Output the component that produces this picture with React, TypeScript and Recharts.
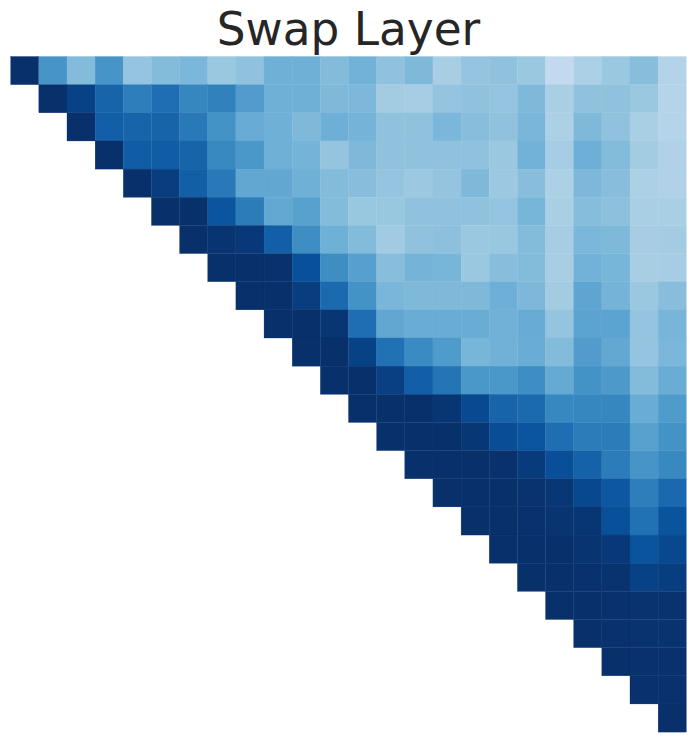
import { ScatterChart, Scatter, XAxis, YAxis } from 'recharts';

// each row starts on the diagonal, values are positions on the Blues scale (1 = darkest)
const row00 = [1, 0.61, 0.44, 0.61, 0.4, 0.44, 0.46, 0.385, 0.41, 0.49, 0.49, 0.44, 0.48, 0.41, 0.45, 0.345, 0.4, 0.41, 0.385, 0.26, 0.33, 0.385, 0.43, 0.31];
const row01 = [1, 0.93, 0.8, 0.7, 0.76, 0.67, 0.69, 0.58, 0.49, 0.49, 0.45, 0.455, 0.36, 0.35, 0.4, 0.41, 0.4, 0.45, 0.34, 0.41, 0.41, 0.385, 0.3];
const row02 = [1, 0.82, 0.8, 0.8, 0.72, 0.62, 0.51, 0.49, 0.45, 0.495, 0.475, 0.41, 0.41, 0.46, 0.43, 0.41, 0.465, 0.33, 0.45, 0.41, 0.34, 0.305];
const row03 = [1, 0.83, 0.83, 0.8, 0.66, 0.6, 0.49, 0.475, 0.4, 0.45, 0.41, 0.41, 0.41, 0.41, 0.385, 0.48, 0.35, 0.495, 0.44, 0.36, 0.32];
const row04 = [1, 0.95, 0.82, 0.72, 0.53, 0.53, 0.49, 0.44, 0.43, 0.4, 0.38, 0.4, 0.45, 0.38, 0.43, 0.33, 0.455, 0.43, 0.33, 0.32];
const row05 = [1, 1, 0.86, 0.71, 0.525, 0.56, 0.44, 0.39, 0.39, 0.41, 0.41, 0.41, 0.4, 0.47, 0.34, 0.435, 0.42, 0.34, 0.34];
const row06 = [1, 0.985, 0.97, 0.82, 0.64, 0.49, 0.44, 0.37, 0.41, 0.42, 0.385, 0.39, 0.44, 0.35, 0.46, 0.45, 0.35, 0.36];
const row07 = [1, 1, 0.995, 0.88, 0.64, 0.565, 0.43, 0.475, 0.47, 0.385, 0.43, 0.44, 0.345, 0.48, 0.47, 0.345, 0.35];
const row08 = [1, 1, 0.95, 0.78, 0.62, 0.465, 0.45, 0.45, 0.45, 0.495, 0.455, 0.36, 0.54, 0.475, 0.385, 0.43];
const row09 = [1, 1, 0.98, 0.76, 0.53, 0.505, 0.505, 0.505, 0.485, 0.51, 0.4, 0.55, 0.55, 0.4, 0.47];
const row10 = [1, 1, 0.93, 0.75, 0.65, 0.585, 0.47, 0.485, 0.505, 0.44, 0.58, 0.525, 0.4, 0.46];
const row11 = [1, 1, 0.94, 0.82, 0.74, 0.6, 0.6, 0.64, 0.52, 0.62, 0.59, 0.44, 0.505];
const row12 = [1, 1, 1, 0.98, 0.9, 0.8, 0.78, 0.665, 0.67, 0.67, 0.505, 0.585];
const row13 = [1, 1, 1, 0.975, 0.89, 0.86, 0.76, 0.71, 0.71, 0.56, 0.62];
const row14 = [1, 1, 1, 0.995, 0.96, 0.885, 0.81, 0.71, 0.61, 0.66];
const row15 = [1, 1, 1, 0.99, 0.975, 0.91, 0.85, 0.7, 0.785];
const row16 = [1, 1, 0.995, 0.985, 0.98, 0.88, 0.75, 0.865];
const row17 = [1, 1, 1, 0.985, 0.97, 0.865, 0.91];
const row18 = [1, 1, 0.995, 0.99, 0.93, 0.95];
const row19 = [1, 1, 0.995, 0.99, 0.99];
const row20 = [1, 0.995, 0.99, 0.99];
const row21 = [1, 0.995, 0.995];
const row22 = [0.995, 0.995];
const row23 = [1];

const rows = [row00, row01, row02, row03, row04, row05, row06, row07, row08, row09, row10, row11, row12, row13, row14, row15, row16, row17, row18, row19, row20, row21, row22, row23];

const blues = ['#f7fbff', '#deebf7', '#c6dbef', '#9ecae1', '#6baed6', '#4292c6', '#2171b5', '#08519c', '#08306b'];

function blueAt(t: number) {
  const pos = Math.min(t, 0.9999) * (blues.length - 1);
  const i = Math.floor(pos);
  const f = pos - i;
  const part = (c: string, k: number) => parseInt(c.slice(k, k + 2), 16);
  const mix = (k: number) => Math.round(part(blues[i], k) + (part(blues[i + 1], k) - part(blues[i], k)) * f);
  return `rgb(${mix(1)},${mix(3)},${mix(5)})`;
}

const N = rows.length;
const left = 10.7;
const top = 56.5;
const plotSize = 675.6;
const cell = plotSize / N;

const cells = rows.flatMap((row, r) =>
  row.map((value, k) => ({ col: r + k + 0.5, row: r + 0.5, value })),
);

function HeatCell(props: any) {
  const { cx, cy, payload } = props;
  const fill = blueAt(payload.value);
  return <rect x={cx - cell / 2} y={cy - cell / 2} width={cell} height={cell} fill={fill} stroke={fill} strokeWidth={0.3} />;
}

export default function App() {
  return (
    <div style={{ position: 'absolute', left: 0, top: 0, width: 697, height: 743, background: '#fff' }}>
      <div
        style={{
          position: 'absolute',
          top: 0,
          width: 697,
          textAlign: 'center',
          fontFamily: '"DejaVu Sans"',
          fontSize: 45.4,
          lineHeight: '60px',
          color: '#262626',
        }}
      >
        Swap Layer
      </div>
      <ScatterChart
        width={697}
        height={743}
        margin={{ left, top, right: 697 - left - plotSize, bottom: 743 - top - plotSize }}
      >
        <XAxis type="number" dataKey="col" domain={[0, N]} hide />
        <YAxis type="number" dataKey="row" domain={[0, N]} reversed hide />
        <Scatter data={cells} shape={HeatCell} isAnimationActive={false} />
      </ScatterChart>
    </div>
  );
}
